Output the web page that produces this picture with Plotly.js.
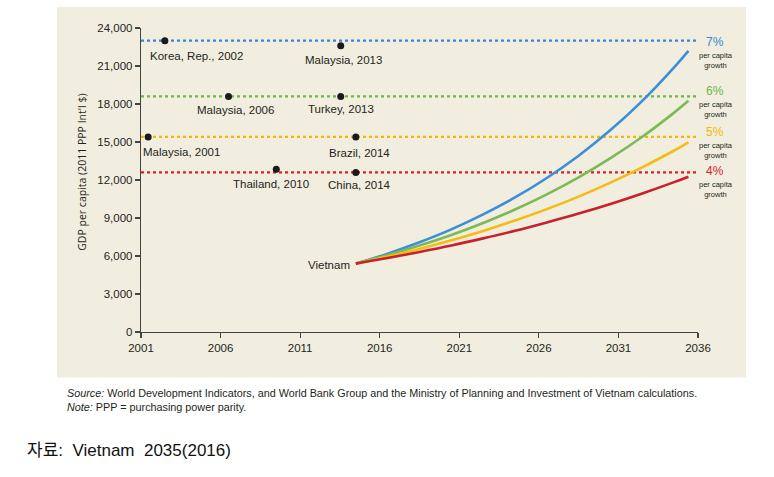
<!DOCTYPE html>
<html>
<head>
<meta charset="utf-8">
<script src="https://cdn.plot.ly/plotly-3.0.1.min.js"></script>
<style>html,body{margin:0;padding:0;background:#fff;}#chart{width:774px;height:477px;}</style>
</head>
<body>
<div id="chart"></div>
<script>
// ---- data ----
const projYears = [2014.5, 2016.5, 2018.5, 2020.5, 2022.5, 2024.5, 2026.5, 2028.5, 2030.5, 2032.5, 2034.5, 2035.4];
const growth7 = [5400, 6180, 7080, 8100, 9280, 10620, 12160, 13920, 15940, 18250, 20900, 22200];
const growth6 = [5400, 6070, 6820, 7660, 8610, 9670, 10870, 12210, 13720, 15410, 17320, 18250];
const growth5 = [5400, 5950, 6560, 7240, 7980, 8800, 9700, 10690, 11790, 13000, 14330, 14970];
const growth4 = [5400, 5840, 6320, 6830, 7390, 7990, 8650, 9350, 10110, 10940, 11830, 12260];
const seriesNames = ["7%", "6%", "5%", "4%"];

const benchmarkLevels = [23000, 18600, 15400, 12600];   // 7%, 6%, 5%, 4% reference lines
const lineYears = [2001, 2036];

const pointLabels = ["Korea, Rep., 2002", "Malaysia, 2013", "Malaysia, 2006", "Turkey, 2013",
                     "Malaysia, 2001", "Brazil, 2014", "Thailand, 2010", "China, 2014"];
const pointYears  = [2002.5, 2013.55, 2006.5, 2013.55, 2001.45, 2014.5, 2009.5, 2014.5];
const pointValues = [23000, 22600, 18600, 18600, 15400, 15400, 12850, 12600];

const xTicks = [2001, 2006, 2011, 2016, 2021, 2026, 2031, 2036];
const yTicks = [0, 3000, 6000, 9000, 12000, 15000, 18000, 21000, 24000];
const yTickText = ["0", "3,000", "6,000", "9,000", "12,000", "15,000", "18,000", "21,000", "24,000"];

const yTitle = "GDP per capita (2011 PPP Int'l $)";
const startLabel = "Vietnam";
const growthNote = "per capita<br>growth";
const sourceText = "<i>Source:</i> World Development Indicators, and World Bank Group and the Ministry of Planning and Investment of Vietnam calculations.";
const noteText = "<i>Note:</i> PPP = purchasing power parity.";
const creditText = "자료:  Vietnam  2035(2016)";

// ---- styling ----
const curveColors = ["#3b8fd8", "#7cba57", "#f4bc14", "#c8202d"];
const dotColors   = ["#3a86d4", "#6fb54a", "#f2b705", "#d9202c"];
const narrow = "Liberation Sans Narrow, Arial Narrow, Liberation Sans, sans-serif";
const txt = "#231f20";

// plot area in pixels: x 141..698, y 28..332.5
const L = 141, R = 698, T = 28, B = 332.5;
const px = x => (x - L) / (R - L);
const py = y => (B - y) / (B - T);

const traces = [];
const curves = [growth7, growth6, growth5, growth4];
benchmarkLevels.forEach((v, i) => {
  traces.push({x: lineYears, y: [v, v], mode: "lines", type: "scatter",
    line: {color: dotColors[i], width: 2.2, dash: "dot"}, hoverinfo: "skip", showlegend: false});
});
curves.forEach((c, i) => {
  traces.push({x: projYears, y: c, mode: "lines", type: "scatter", name: seriesNames[i],
    line: {color: curveColors[i], width: 2.6, shape: "spline"}, showlegend: false});
});
traces.push({x: pointYears, y: pointValues, mode: "markers", type: "scatter", text: pointLabels,
  marker: {color: "#1a1a1a", size: 7}, cliponaxis: false, showlegend: false});

const labelShift = [[32, -15], [3, -14], [7, -14], [0, -13], [33, -15], [4, -16], [-5, -15], [4, -13]];
const annotations = pointLabels.map((t, i) => ({
  text: t, x: pointYears[i], y: pointValues[i], xref: "x", yref: "y", showarrow: false,
  xanchor: "center", yanchor: "middle", xshift: labelShift[i][0], yshift: labelShift[i][1],
  font: {family: narrow, size: 11.5, color: txt}
}));

annotations.push({text: startLabel, x: projYears[0], y: growth7[0], xref: "x", yref: "y",
  showarrow: false, xanchor: "right", yanchor: "middle", xshift: -4, yshift: -1,
  font: {family: narrow, size: 11.5, color: txt}});

const pctY = [42, 91, 132, 171];
seriesNames.forEach((s, i) => {
  annotations.push({text: s, x: px(715), y: py(pctY[i]), xref: "paper", yref: "paper", showarrow: false,
    xanchor: "center", yanchor: "middle", font: {family: narrow, size: 12, color: dotColors[i]}});
  annotations.push({text: growthNote, x: px(716), y: py(pctY[i] + 18.5), xref: "paper", yref: "paper", showarrow: false,
    xanchor: "center", yanchor: "middle", font: {family: narrow, size: 7.5, color: txt}});
});

annotations.push({text: yTitle, x: px(82), y: py(173), xref: "paper", yref: "paper", showarrow: false,
  textangle: -90, xanchor: "center", yanchor: "middle", font: {family: "Open Sans, sans-serif", size: 10.5, color: txt}});

annotations.push({text: sourceText, x: px(65), y: py(394), xref: "paper", yref: "paper", showarrow: false,
  xanchor: "left", yanchor: "middle", font: {family: narrow, size: 10.8, color: txt}});
annotations.push({text: noteText, x: px(65), y: py(408), xref: "paper", yref: "paper", showarrow: false,
  xanchor: "left", yanchor: "middle", font: {family: narrow, size: 10.8, color: txt}});
annotations.push({text: creditText, x: px(25), y: py(451), xref: "paper", yref: "paper", showarrow: false,
  xanchor: "left", yanchor: "middle", font: {family: "Liberation Sans, Noto Sans CJK KR, sans-serif", size: 17, color: "#111"}});

const layout = {
  width: 774, height: 477,
  margin: {l: L, r: 774 - R, t: T, b: 477 - B, pad: 0},
  paper_bgcolor: "#ffffff", plot_bgcolor: "rgba(0,0,0,0)",
  showlegend: false,
  xaxis: {range: [2001, 2036], tickvals: xTicks, ticktext: xTicks.map(String),
    showgrid: false, zeroline: false, showline: true, linecolor: "#444", linewidth: 1.2,
    ticks: "outside", ticklen: 5, tickcolor: "#444", tickwidth: 1.2,
    tickfont: {family: narrow, size: 11.5, color: txt}},
  yaxis: {range: [0, 24000], tickvals: yTicks, ticktext: yTickText,
    showgrid: false, zeroline: false, showline: true, linecolor: "#444", linewidth: 1.2,
    ticks: "outside", ticklen: 5, tickcolor: "#444", tickwidth: 1.2,
    tickfont: {family: narrow, size: 11.5, color: txt}},
  shapes: [{type: "rect", xref: "paper", yref: "paper", layer: "below",
    x0: px(57), x1: px(746), y0: py(378), y1: py(7),
    fillcolor: "#f1eedf", line: {width: 0}}],
  annotations: annotations
};

Plotly.newPlot("chart", traces, layout, {displayModeBar: false, staticPlot: true});
</script>
</body>
</html>
